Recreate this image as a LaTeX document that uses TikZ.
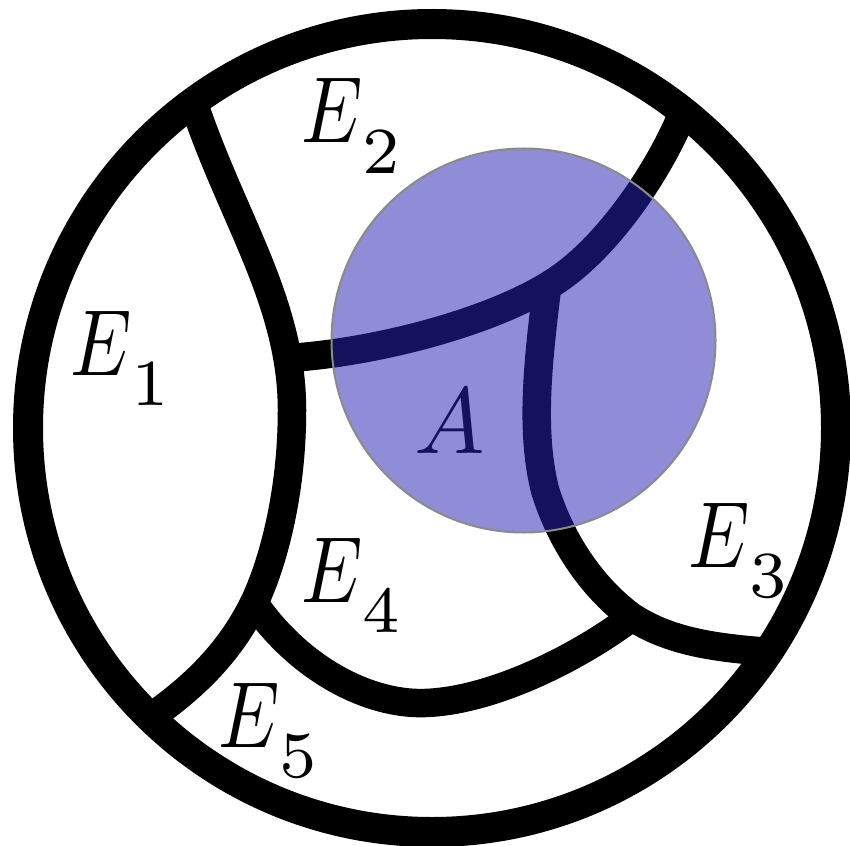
\documentclass[tikz,border=0pt]{standalone}
\newcommand{\Elab}[1]{\scalebox{0.82}[1]{$E$}\raisebox{-3.2pt}{$\scriptstyle #1$}}
\begin{document}
\begin{tikzpicture}[x=1pt,y=-1pt,
  outerline/.style={line width=30pt},
  wall/.style={line width=28.5pt},
  lbl/.style={inner sep=0pt, outer sep=0pt, scale=9.4, anchor=base west},
  disc/.style={fill={rgb,255:red,40;green,35;blue,180}, fill opacity=0.52, draw={rgb,255:red,138;green,138;blue,138}, line width=2pt}]
\useasboundingbox (0,0) rectangle (850,845);
% junctions
\coordinate (j12) at (192,98);
\coordinate (j15) at (158,712);
\coordinate (j14) at (254,603);
\coordinate (j2l) at (289,358);
\coordinate (j2m) at (560,278);
\coordinate (j2t) at (684,110);
\coordinate (j23) at (548,280);
\coordinate (j3m) at (545,490);
\coordinate (j34) at (632,617);
\coordinate (j3r) at (770,652);
\coordinate (j4b) at (425,703);
\coordinate (j1m) at (292,410);
% outer circle
\draw[outerline] (432,428) circle (404);
% curve 1 (E1 boundary)
\draw[wall] (j12) .. controls (230,215) and (292,300) .. (j1m)
                  .. controls (292,500) and (270,570) .. (j14)
                  .. controls (230,652) and (195,685) .. (j15);
% curve 2
\draw[wall] (j2l) .. controls (380,352) and (500,320) .. (j2m)
                  .. controls (610,243) and (660,170) .. (j2t);
% curve 3
\draw[wall] (j23) .. controls (538,360) and (530,430) .. (j3m)
                  .. controls (562,545) and (595,590) .. (j34)
                  .. controls (672,643) and (720,648) .. (j3r);
% curve 4
\draw[wall] (j14) .. controls (300,670) and (370,705) .. (j4b)
                  .. controls (490,701) and (575,660) .. (j34);
% labels
\node[lbl] (e1) at (70,375) {\Elab{1}};
\node[lbl] (e2) at (301,143) {\Elab{2}};
\node[lbl] (e3) at (688,567) {\Elab{3}};
\node[lbl] (e4) at (301,602) {\Elab{4}};
\node[lbl] (e5) at (218,747) {\Elab{5}};
\node[lbl] (a) at (414,453) {$A$};
% set A
\draw[disc] (523.5,340.5) circle (192);
\end{tikzpicture}
\end{document}
